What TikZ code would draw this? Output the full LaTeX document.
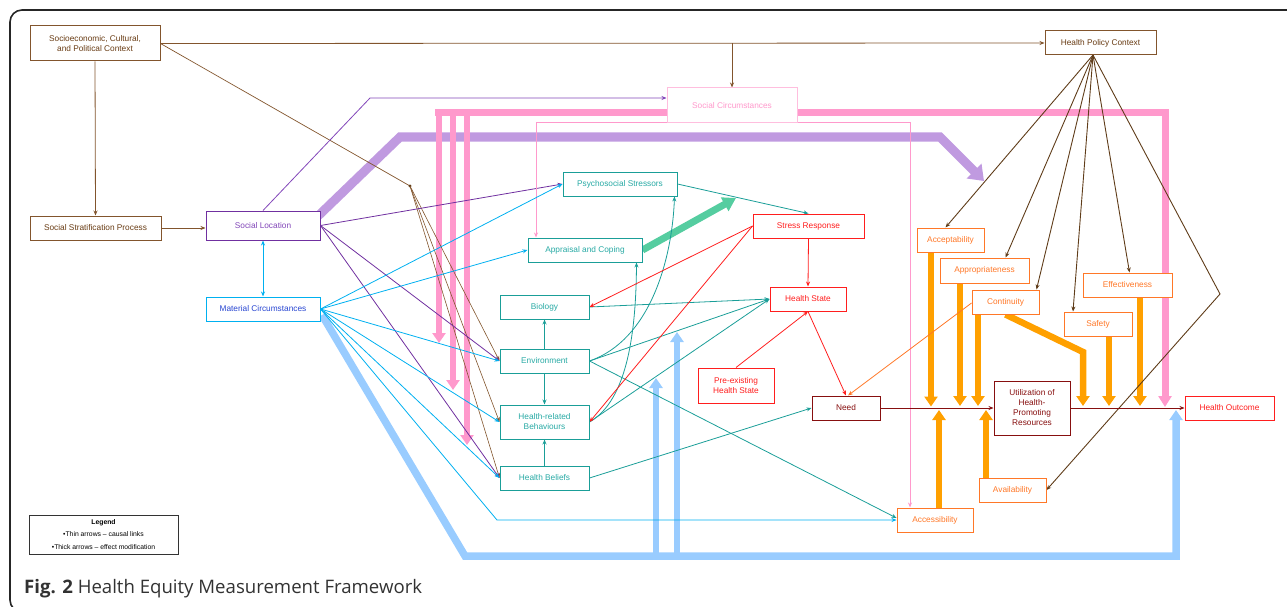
\documentclass[tikz,border=0pt]{standalone}
\usepackage{fontspec}
\setmainfont{Liberation Sans}
\newfontfamily\capfont{Open Sans}
\usetikzlibrary{arrows.meta}
\definecolor{brnB}{RGB}{130,85,45}
\definecolor{brnT}{RGB}{105,60,20}
\definecolor{brnL}{RGB}{95,60,25}
\definecolor{purp}{RGB}{112,48,160}
\definecolor{purpT}{RGB}{130,70,185}
\definecolor{lav}{RGB}{192,154,224}
\definecolor{pinkT}{RGB}{255,153,204}
\definecolor{pinkB}{RGB}{255,190,222}
\definecolor{cyanC}{RGB}{0,176,240}
\definecolor{blueT}{RGB}{40,70,210}
\definecolor{tealC}{RGB}{26,158,152}
\definecolor{tealT}{RGB}{40,170,165}
\definecolor{mint}{RGB}{85,205,160}
\definecolor{redC}{RGB}{255,30,30}
\definecolor{dred}{RGB}{135,15,15}
\definecolor{oraB}{RGB}{255,120,40}
\definecolor{oraT}{RGB}{255,160,0}
\definecolor{lblue}{RGB}{153,204,255}
\definecolor{capc}{RGB}{50,50,50}
\begin{document}
\begin{tikzpicture}[x=1pt,y=-1pt,
  box/.style={draw, fill=white, line width=1pt, inner sep=1pt, align=center,
    font=\fontsize{8.3}{10}\selectfont},
  bx/.style n args={4}{box, draw=#1, text=#2, minimum width=#3, minimum height=#4},
  tn/.style={-{Stealth[length=5pt,width=4pt]}, line width=0.8pt},
  tl/.style={line width=0.8pt},
  thk/.style={line width=6.5pt, -{Triangle[length=10pt,width=13pt]}},
]
\useasboundingbox (0,0) rectangle (1287,607);
% frame
\draw[line width=1.6pt, color=black!85, rounded corners=12pt] (1300,10) -- (10,10) -- (10,612) -- (60,612);

% ---------- nodes (placed first for anchors, redrawn later on top) ----------
\path
  node[bx={brnB}{brnT}{130pt}{35pt}] (socio) at (95,43.5) {Socioeconomic, Cultural,\\and Political Context}
  node[bx={brnB}{brnT}{111pt}{24pt}] (hpc) at (1100.5,43) {Health Policy Context}
  node[bx={pinkB}{pinkT}{130pt}{35pt}] (socc) at (732,105.5) {Social Circumstances}
  node[bx={brnB}{brnT}{131pt}{24pt}] (strat) at (95.5,228) {Social Stratification Process}
  node[bx={purp}{purpT}{114pt}{29pt}] (sloc) at (263,225.5) {Social Location}
  node[bx={cyanC}{blueT}{114pt}{24pt}] (mat) at (263,309) {Material Circumstances}
  node[bx={tealC}{tealT}{114pt}{24pt}] (psy) at (620,184) {Psychosocial Stressors}
  node[bx={tealC}{tealT}{114pt}{24pt}] (app) at (585,250) {Appraisal and Coping}
  node[bx={tealC}{tealT}{89pt}{24pt}] (bio) at (544.5,307) {Biology}
  node[bx={tealC}{tealT}{89pt}{24pt}] (env) at (544.5,361) {Environment}
  node[bx={tealC}{tealT}{89pt}{34pt}] (hrb) at (544.5,422) {Health-related\\Behaviours}
  node[bx={tealC}{tealT}{89pt}{24pt}] (hb) at (544.5,478) {Health Beliefs}
  node[bx={redC}{redC}{111pt}{24pt}] (sr) at (808.5,226) {Stress Response}
  node[bx={redC}{redC}{76pt}{24pt}] (hs) at (808,299) {Health State}
  node[bx={redC}{redC}{76pt}{35pt}] (pre) at (736,385.5) {Pre-existing\\Health State}
  node[bx={dred}{dred}{68pt}{24pt}] (need) at (846,408) {Need}
  node[bx={dred}{dred}{76pt}{54pt}] (util) at (1032,408) {Utilization of\\Health-\\Promoting\\Resources}
  node[bx={redC}{redC}{89pt}{24pt}] (ho) at (1229.5,408) {Health Outcome}
  node[bx={oraB}{oraB}{67pt}{24pt}] (acc) at (950.5,240) {Acceptability}
  node[bx={oraB}{oraB}{89pt}{25pt}] (appr) at (984.5,270.5) {Appropriateness}
  node[bx={oraB}{oraB}{67pt}{24pt}] (cont) at (1005.5,302) {Continuity}
  node[bx={oraB}{oraB}{89pt}{24pt}] (eff) at (1127.5,285) {Effectiveness}
  node[bx={oraB}{oraB}{68pt}{24pt}] (saf) at (1098,324) {Safety}
  node[bx={oraB}{oraB}{67pt}{24pt}] (avail) at (1012.5,490) {Availability}
  node[bx={oraB}{oraB}{76pt}{24pt}] (access) at (935,520) {Accessibility};

% ---------- thick arrows (effect modification) ----------
% lavender
\draw[lav, line width=9pt, -{Triangle[length=14pt,width=20pt]}] (316,218) -- (400,137) -- (940,137) -- (984,181);
% pink
\draw[pinkT, line width=7pt, -{Triangle[length=11pt,width=13pt]}] (435,113) -- (1165,113) -- (1165,407);
\draw[pinkT, thk] (439,113) -- (439,343);
\draw[pinkT, thk] (453,113) -- (453,390);
\draw[pinkT, thk] (467,113) -- (467,445);
% light blue
\draw[lblue, line width=7.5pt, -{Triangle[length=10pt,width=13pt]}] (322,315) -- (465,556) -- (1176,556) -- (1176,410);
\draw[lblue, thk] (656,556) -- (656,378);
\draw[lblue, thk] (677,556) -- (677,332);
% mint
\draw[mint, line width=7pt, -{Triangle[length=13pt,width=15pt]}] (app.east) -- (736,198);
% orange
\draw[oraT, thk] ([xshift=-19.5pt]acc.south) -- ++(0,154);
\draw[oraT, thk] ([xshift=-24.5pt]appr.south) -- (960,406);
\draw[oraT, thk] ([xshift=-27.5pt]cont.south) -- (978,406);
\draw[oraT, thk] (cont.south) -- (1083,352) -- (1083,406);
\draw[oraT, thk] ([xshift=11pt]saf.south) -- (1109,406);
\draw[oraT, thk] ([xshift=12.5pt]eff.south) -- (1140,406);
\draw[oraT, thk] ([xshift=4pt]access.north) -- (939,410);
\draw[oraT, thk] ([xshift=-26.5pt]avail.north) -- (986,410);

% ---------- thin arrows ----------
% brown
\coordinate (j1) at (732,43.5);
\coordinate (dot) at (410,186);
\coordinate (hp) at (1093,55);
\draw[brnB, tn] (socio.east) -- (hpc.west);
\draw[brnB, tn] (j1) -- (socc.north);
\draw[brnB, tn] (socio.south) -- (strat.north);
\draw[brnB, tn] (strat.east) -- (strat.east -| sloc.west);
\draw[brnB, line width=0.7pt] (socio.east) -- (dot);
\fill[brnL] (dot) circle (1.6pt);
\draw[brnB, tn, line width=0.6pt] (dot) -- (env.west);
\draw[brnB, tn, line width=0.6pt] (dot) -- (hrb.west);
\draw[brnB, tn, line width=0.6pt] (dot) -- (hb.west);
\draw[brnL, tn, line width=0.9pt] (hp) -- ([xshift=-5pt]acc.north);
\draw[brnL, tn, line width=0.9pt] (hp) -- ([xshift=21pt]appr.north);
\draw[brnL, tn, line width=0.9pt] (hp) -- ([xshift=31pt]cont.north);
\draw[brnL, tn, line width=0.9pt] (hp) -- ([xshift=-25pt]saf.north);
\draw[brnL, tn, line width=0.9pt] (hp) -- ([xshift=2pt]eff.north);
\draw[brnL, tn, line width=0.9pt] (hp) -- (1220,294) -- (avail.east);
% purple
\coordinate (pk) at (370,98);
\draw[purpT, tn] (sloc.north) -- (pk) -- (pk -| socc.west);
\draw[purp, tn] (sloc.east) -- (psy.west);
\draw[purp, tn] (sloc.east) -- (env.west);
\draw[purp, tn] (sloc.east) -- (hb.west);
\draw[cyanC, {Stealth[length=5pt,width=4pt]}-{Stealth[length=5pt,width=4pt]}, line width=0.8pt] (sloc.south) -- (mat.north);
% pink thin
\coordinate (pc1) at (536,122);
\coordinate (pc2) at (910,122);
\draw[pinkT, tl] (pc1) -- (pc2);
\draw[pinkT, tn] (pc1) -- (pc1 |- app.north);
\draw[pinkT, tn] (pc2) -- (pc2 |- access.north);
% cyan
\coordinate (cy) at (497,520);
\draw[cyanC, tn] (mat.east) -- (psy.west);
\draw[cyanC, tn] (mat.east) -- (app.west);
\draw[cyanC, tn] (mat.east) -- (env.west);
\draw[cyanC, tn] (mat.east) -- (hrb.west);
\draw[cyanC, tn] (mat.east) -- (hb.west);
\draw[cyanC, tn] (mat.east) -- (cy) -- (access.west);
% teal
\draw[tealC, tn] (psy.east) -- (sr.north);
\draw[tealC, tn] (env.north) -- (bio.south);
\draw[tealC, tn] (env.south) -- (hrb.north);
\draw[tealC, tn] (hb.north) -- (hrb.south);
\draw[tealC, tn] (bio.east) -- (hs.west);
\draw[tealC, tn] (env.east) -- (hs.west);
\draw[tealC, tn] (hrb.east) -- (hs.west);
\draw[tealC, tn] (hb.east) -- (need.west);
\draw[tealC, tn] (env.east) -- ([yshift=2pt]access.west);
\draw[tealC, tn] (env.east) .. controls (650,340) and (672,260) .. ([xshift=-3pt]psy.south east);
\draw[tealC, tn] (hrb.east) .. controls (628,400) and (636,330) .. ([xshift=-6pt]app.south east);
% red
\draw[redC, tn] (sr.south) -- (hs.north);
\draw[redC, tn] (sr.west) -- (bio.east);
\draw[redC, tn] (sr.west) -- (hrb.east);
\draw[redC, tn] (pre.north) -- (hs.south);
\draw[redC, tn] (hs.south) -- (need.north);
% dark red
\draw[dred, tn] (need.east) -- (util.west);
\draw[dred, tn] (util.east) -- (ho.west);
% orange thin
\draw[oraB, tn] ([yshift=-1pt]cont.west) -- ([xshift=2pt]need.north);

% ---------- redraw nodes on top ----------
\path
  node[bx={brnB}{brnT}{130pt}{35pt}] at (socio) {Socioeconomic, Cultural,\\and Political Context}
  node[bx={brnB}{brnT}{111pt}{24pt}] at (hpc) {Health Policy Context}
  node[bx={pinkB}{pinkT}{130pt}{35pt}] at (socc) {Social Circumstances}
  node[bx={brnB}{brnT}{131pt}{24pt}] at (strat) {Social Stratification Process}
  node[bx={purp}{purpT}{114pt}{29pt}] at (sloc) {Social Location}
  node[bx={cyanC}{blueT}{114pt}{24pt}] at (mat) {Material Circumstances}
  node[bx={tealC}{tealT}{114pt}{24pt}] at (psy) {Psychosocial Stressors}
  node[bx={tealC}{tealT}{114pt}{24pt}] at (app) {Appraisal and Coping}
  node[bx={tealC}{tealT}{89pt}{24pt}] at (bio) {Biology}
  node[bx={tealC}{tealT}{89pt}{24pt}] at (env) {Environment}
  node[bx={tealC}{tealT}{89pt}{34pt}] at (hrb) {Health-related\\Behaviours}
  node[bx={tealC}{tealT}{89pt}{24pt}] at (hb) {Health Beliefs}
  node[bx={redC}{redC}{111pt}{24pt}] at (sr) {Stress Response}
  node[bx={redC}{redC}{76pt}{24pt}] at (hs) {Health State}
  node[bx={redC}{redC}{76pt}{35pt}] at (pre) {Pre-existing\\Health State}
  node[bx={dred}{dred}{68pt}{24pt}] at (need) {Need}
  node[bx={dred}{dred}{76pt}{54pt}] at (util) {Utilization of\\Health-\\Promoting\\Resources}
  node[bx={redC}{redC}{89pt}{24pt}] at (ho) {Health Outcome}
  node[bx={oraB}{oraB}{67pt}{24pt}] at (acc) {Acceptability}
  node[bx={oraB}{oraB}{89pt}{25pt}] at (appr) {Appropriateness}
  node[bx={oraB}{oraB}{67pt}{24pt}] at (cont) {Continuity}
  node[bx={oraB}{oraB}{89pt}{24pt}] at (eff) {Effectiveness}
  node[bx={oraB}{oraB}{68pt}{24pt}] at (saf) {Safety}
  node[bx={oraB}{oraB}{67pt}{24pt}] at (avail) {Availability}
  node[bx={oraB}{oraB}{76pt}{24pt}] at (access) {Accessibility};

% legend
\node[draw=black!80, fill=white, line width=0.8pt, minimum width=149pt, minimum height=39pt, inner sep=1pt, align=center,
  font=\fontsize{6.8}{12.5}\selectfont] (legend) at (103.5,534.5)
  {\textbf{Legend}\\•Thin arrows – causal links\\•Thick arrows – effect modification};

% caption
\node[anchor=base west, inner sep=0pt, text=capc, font=\capfont\fontsize{18.6}{20}\selectfont] (cap) at (24,593)
  {\textbf{Fig. 2} Health Equity Measurement Framework};
\end{tikzpicture}
\end{document}
